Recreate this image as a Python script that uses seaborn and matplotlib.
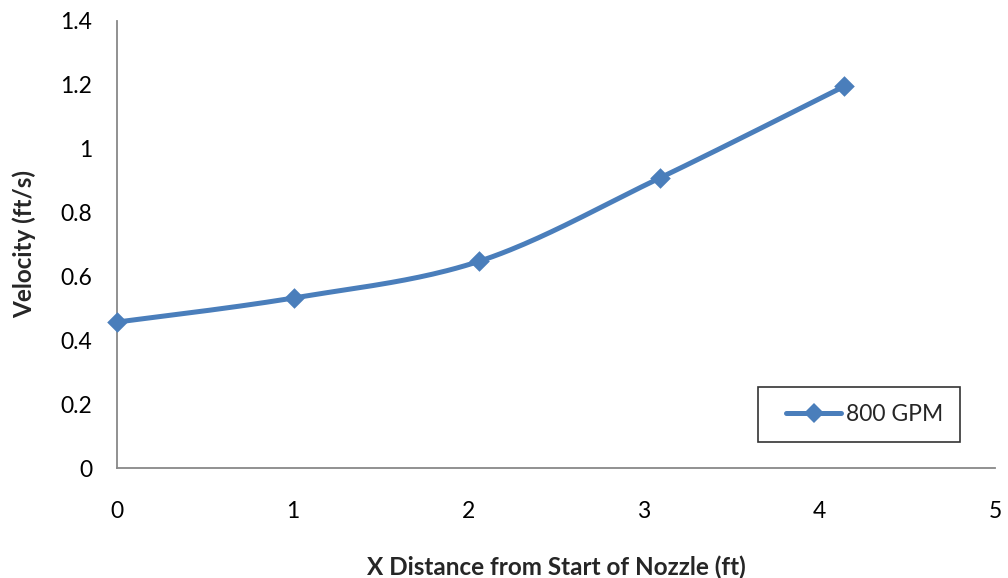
import numpy as np
import pandas as pd
import matplotlib
matplotlib.use("Agg")
import matplotlib.pyplot as plt
from matplotlib.lines import Line2D
from matplotlib.legend_handler import HandlerLine2D
import seaborn as sns

# Measured centreline velocity along the nozzle
distance_ft = [0.0, 1.01, 2.06, 3.09, 4.14]
velocity_fts = [0.457, 0.533, 0.647, 0.908, 1.195]
series_name = "800 GPM"

x_ticks = [0, 1, 2, 3, 4, 5]
y_ticks = [0, 0.2, 0.4, 0.6, 0.8, 1.0, 1.2, 1.4]
y_tick_labels = ["0", "0.2", "0.4", "0.6", "0.8", "1", "1.2", "1.4"]

BLUE = "#4A7EBB"


def smooth_curve(xs, ys, steps=40, tension=0.5):
    """Cardinal-spline path through the points (smoothed line style)."""
    p = np.column_stack([xs, ys]).astype(float)
    ext = np.vstack([p[0], p, p[-1]])
    out = []
    for i in range(1, len(ext) - 2):
        p0, p1, p2, p3 = ext[i - 1], ext[i], ext[i + 1], ext[i + 2]
        m1 = tension * (p2 - p0)
        m2 = tension * (p3 - p1)
        t = np.linspace(0, 1, steps, endpoint=(i == len(ext) - 3))[:, None]
        h00 = 2 * t**3 - 3 * t**2 + 1
        h10 = t**3 - 2 * t**2 + t
        h01 = -2 * t**3 + 3 * t**2
        h11 = t**3 - t**2
        out.append(h00 * p1 + h10 * m1 + h01 * p2 + h11 * m2)
    c = np.vstack(out)
    return c[:, 0], c[:, 1]


sns.set_theme(style="white")
plt.rcParams["font.family"] = ["Lato", "DejaVu Sans"]

fig = plt.figure(figsize=(10.08, 5.78), dpi=100)
ax = fig.add_axes([0.1161, 0.1903, 0.8710, 0.7734])

cx, cy = smooth_curve(distance_ft, velocity_fts)
curve = pd.DataFrame({"x": cx, "y": cy})
points = pd.DataFrame({"x": distance_ft, "y": velocity_fts})

sns.lineplot(data=curve, x="x", y="y", sort=False, color=BLUE, linewidth=3.6,
             ax=ax, legend=False)
sns.scatterplot(data=points, x="x", y="y", marker="D", s=110, color=BLUE,
                edgecolor=BLUE, linewidth=0, ax=ax, legend=False, zorder=3,
                clip_on=False)

ax.set_xlim(0, 5)
ax.set_ylim(0, 1.4)
ax.set_xticks(x_ticks)
ax.set_xticklabels([str(v) for v in x_ticks])
ax.set_yticks(y_ticks)
ax.set_yticklabels(y_tick_labels)
ax.tick_params(axis="x", length=0, pad=24, labelsize=16.5, colors="black")
ax.tick_params(axis="y", length=0, pad=18, labelsize=16.5, colors="black")

for side in ("top", "right"):
    ax.spines[side].set_visible(False)
for side in ("left", "bottom"):
    ax.spines[side].set_color("#888888")
    ax.spines[side].set_linewidth(1.3)

ax.set_xlabel("X Distance from Start of Nozzle (ft)", fontsize=17.5,
              fontweight="bold", labelpad=24)
ax.set_ylabel("Velocity (ft/s)", fontsize=17.5, fontweight="bold", labelpad=17)

handle = Line2D([], [], color=BLUE, linewidth=3.6, marker="D", markersize=10,
                markeredgewidth=0)
leg = fig.legend([handle], [series_name], loc="upper left",
                 bbox_to_anchor=(758 / 1008, 1 - 387 / 578), fontsize=16.5,
                 frameon=True, fancybox=False, handlelength=2.88,
                 handletextpad=0.2, borderpad=0.75, borderaxespad=0,
                 handler_map={Line2D: HandlerLine2D(xpad=0.48)})
frame = leg.get_frame()
frame.set_edgecolor("black")
frame.set_linewidth(1.2)
frame.set_facecolor("white")

fig.savefig("out.png", dpi=100)
